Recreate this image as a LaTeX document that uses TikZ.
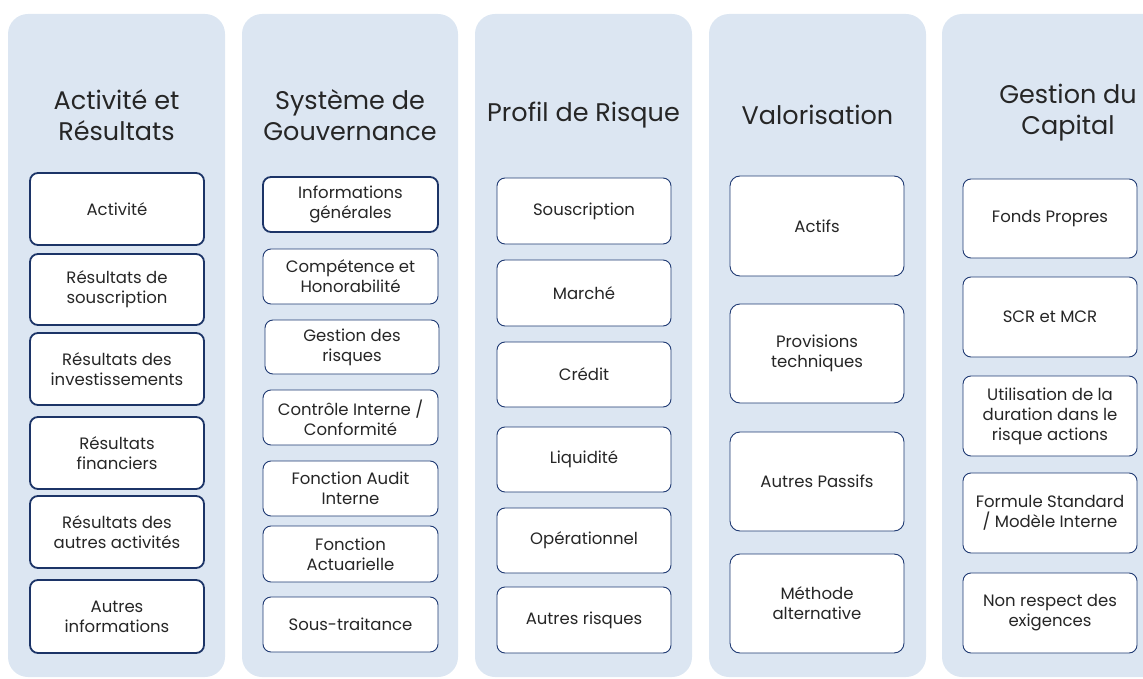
\documentclass[tikz,border=0pt]{standalone}
\usepackage{fontspec}
\setmainfont{Poppins}
\definecolor{panelblue}{HTML}{DCE6F2}
\definecolor{boxnavy}{HTML}{1F3A73}
\definecolor{txtgray}{HTML}{262626}

\begin{document}
\begin{tikzpicture}[x=1pt, y=-1pt,
    every node/.append style={text=txtgray, align=center},
    panel/.style={fill=panelblue, rounded corners=20pt},
    title/.style={font=\fontsize{25.5}{31}\selectfont},
    item/.style={draw=boxnavy, fill=white, rounded corners=8pt, minimum width=174pt,
                 inner sep=0pt, line width=0.9pt, font=\fontsize{16.5}{20}\selectfont},
    itemthick/.style={item, line width=1.8pt, draw=boxnavy!90!black}]
    \clip (0,0) rectangle (1143,679);

    % colonnes
    \fill[panel] (8,14) rectangle (225,677);
    \fill[panel] (242,14) rectangle (458,677);
    \fill[panel] (475,14) rectangle (692,677);
    \fill[panel] (709,14) rectangle (926,677);
    \fill[panel] (942,14) rectangle (1190,677);

    \node[title] (t-act) at (116.5,115) {Activité et\\Résultats};
    \node[title] (t-gouv) at (350,115) {Système de\\Gouvernance};
    \node[title] (t-risk) at (583.5,115) {Profil de Risque};
    \node[title] (t-val) at (817.5,115) {Valorisation};
    \node[title] (t-cap) at (1068,113) {Gestion du\\Capital};

    % activite et resultats
    \node[itemthick, minimum height=72pt] (act) at (117,209) {Activité};
    \node[itemthick, minimum height=71pt] (ressous) at (117,289.5) {Résultats de\\souscription};
    \node[itemthick, minimum height=72pt] (resinv) at (117,369) {Résultats des\\investissements};
    \node[itemthick, minimum height=72pt] (resfin) at (117,453) {Résultats\\financiers};
    \node[itemthick, minimum height=72pt] (resautres) at (117,532) {Résultats des\\autres activités};
    \node[itemthick, minimum height=73pt] (autinfo) at (117,616.5) {Autres\\informations};

    % systeme de gouvernance
    \node[itemthick, minimum width=175pt, minimum height=55pt] (infogen) at (350.5,204.5) {Informations\\générales};
    \node[item, minimum width=175pt, minimum height=55pt] (comp) at (350.5,276.5) {Compétence et\\Honorabilité};
    \node[item, minimum width=174pt, minimum height=54pt] (gestrisk) at (352,347) {Gestion des\\risques};
    \node[item, minimum width=175pt, minimum height=55pt] (ctrl) at (350.5,417.5) {Contrôle Interne /\\Conformité};
    \node[item, minimum width=175pt, minimum height=55pt] (audit) at (350.5,488.5) {Fonction Audit\\Interne};
    \node[item, minimum width=175pt, minimum height=56pt] (actu) at (350.5,554) {Fonction\\Actuarielle};
    \node[item, minimum width=175pt, minimum height=55pt] (soustr) at (350.5,624.5) {Sous-traitance};

    % profil de risque
    \node[item, minimum height=66pt] (sousc) at (584,211) {Souscription};
    \node[item, minimum height=66pt] (marche) at (584,293) {Marché};
    \node[item, minimum height=65pt] (credit) at (584,374.5) {Crédit};
    \node[item, minimum height=65pt] (liqui) at (584,459.5) {Liquidité};
    \node[item, minimum height=65pt] (operat) at (584,540.5) {Opérationnel};
    \node[item, minimum height=66pt] (autrisk) at (584,620) {Autres risques};

    % valorisation
    \node[item, minimum height=100pt, rounded corners=10pt] (actifs) at (817,226) {Actifs};
    \node[item, minimum height=99pt, rounded corners=10pt] (provtech) at (817,353.5) {Provisions\\techniques};
    \node[item, minimum height=99pt, rounded corners=10pt] (autpass) at (817,481.5) {Autres Passifs};
    \node[item, minimum height=99pt, rounded corners=10pt] (methalt) at (817,603.5) {Méthode\\alternative};

    % gestion du capital
    \node[item, minimum height=79pt] (fonds) at (1050,218.5) {Fonds Propres};
    \node[item, minimum height=80pt] (scrmcr) at (1050,317) {SCR et MCR};
    \node[item, minimum height=80pt] (duration) at (1050,416) {Utilisation de la\\duration dans le\\risque actions};
    \node[item, minimum height=80pt] (formule) at (1050,513) {Formule Standard\\/ Modèle Interne};
    \node[item, minimum height=80pt] (nonresp) at (1050,613) {Non respect des\\exigences};
\end{tikzpicture}
\end{document}
